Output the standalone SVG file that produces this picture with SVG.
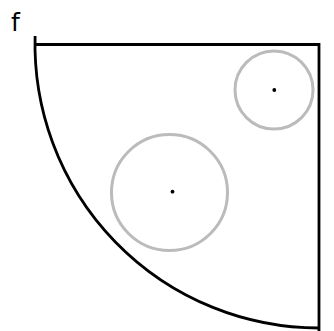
<svg xmlns="http://www.w3.org/2000/svg" width="334" height="331" viewBox="0 0 334 331">
<style>
.edge{fill:none;stroke:#000;stroke-width:2.8}
.ring{fill:none;stroke:#bbb;stroke-width:3}
.dot{fill:#000}
.lbl{font-family:"DejaVu Sans",sans-serif;font-size:25px;fill:#000}
</style>
<rect width="334" height="331" fill="#fff"/>
<g id="connectors">
<path class="edge" d="M35.1,36 A284,284 0 0 0 319,328"/>
<path class="edge" d="M36,44.5 H319 V331"/>
</g>
<g id="small-circle">
<circle class="ring" cx="274" cy="90" r="39"/>
<circle class="dot" cx="274.3" cy="90" r="1.9"/>
</g>
<g id="large-circle">
<circle class="ring" cx="169.5" cy="192.5" r="58"/>
<circle class="dot" cx="172.5" cy="191.7" r="1.9"/>
</g>
<g id="label-f">
<text class="lbl" x="11" y="31">f</text>
</g>
</svg>
